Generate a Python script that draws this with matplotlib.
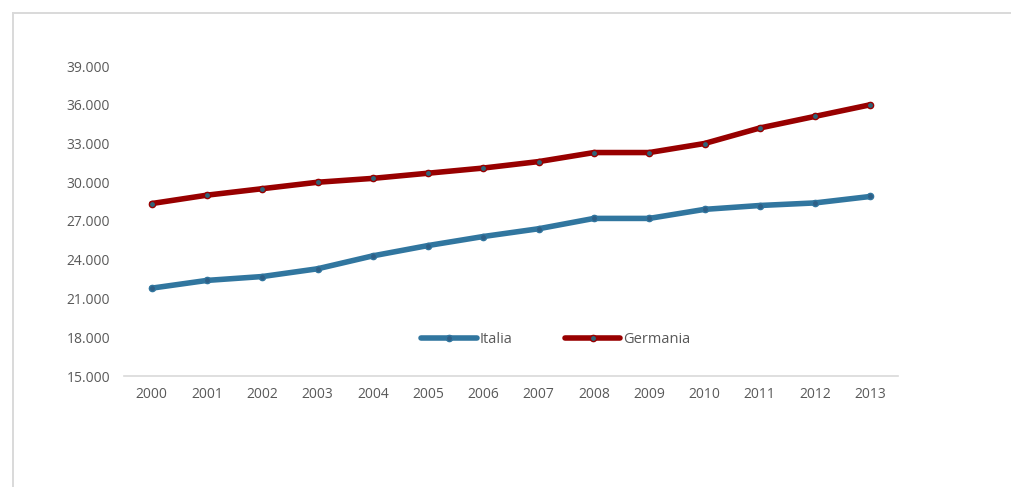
import matplotlib.pyplot as plt
from matplotlib.lines import Line2D
from matplotlib.ticker import FuncFormatter

# =============================
# DATA
# =============================
years = ["2000", "2001", "2002", "2003", "2004", "2005", "2006",
         "2007", "2008", "2009", "2010", "2011", "2012", "2013"]

italia = [21800, 22400, 22700, 23300, 24300, 25100, 25800,
          26400, 27200, 27200, 27900, 28200, 28400, 28900]

germania = [28350, 29000, 29500, 30000, 30300, 30700, 31100,
            31600, 32300, 32300, 33000, 34200, 35100, 36000]

y_ticks = [15000, 18000, 21000, 24000, 27000, 30000, 33000, 36000, 39000]

# =============================
# STYLE
# =============================
BLUE = "#31769f"
RED = "#980000"
TEXT = "#595959"
plt.rcParams["font.family"] = ["Open Sans", "DejaVu Sans"]

W, H = 1011, 487
fig = plt.figure(figsize=(W / 100, H / 100), dpi=100)

# chart area border (only top and left edges are visible)
bx, by = 13 / W, 1 - 13 / H
fig.lines.append(Line2D([bx, 1.0], [by, by], transform=fig.transFigure,
                        color="#d9d9d9", linewidth=1.4))
fig.lines.append(Line2D([bx, bx], [0.0, by], transform=fig.transFigure,
                        color="#d9d9d9", linewidth=1.4))

left, right, top, bottom = 124, 898, 66, 376
ax = fig.add_axes([left / W, (H - bottom) / H, (right - left) / W, (bottom - top) / H])

x = range(len(years))
ax.plot(x, italia, color=BLUE, linewidth=4, marker="o", markersize=4.5,
        markerfacecolor="#2e5f86", markeredgecolor=BLUE, solid_capstyle="round",
        label="Italia", zorder=3)
ax.plot(x, germania, color=RED, linewidth=4, marker="o", markersize=4.5,
        markerfacecolor="#2f6478", markeredgecolor=RED, solid_capstyle="round",
        label="Germania", zorder=3)

ax.set_xlim(-0.5, len(years) - 0.5)
ax.set_ylim(15000, 39000)
ax.set_xticks(list(x))
ax.set_xticklabels(years)
ax.set_yticks(y_ticks)
ax.yaxis.set_major_formatter(FuncFormatter(lambda v, p: f"{int(v):,}".replace(",", ".")))

for s in ["top", "right", "left"]:
    ax.spines[s].set_visible(False)
ax.spines["bottom"].set_color("#d9d9d9")
ax.spines["bottom"].set_linewidth(1.2)
ax.tick_params(axis="both", length=0, labelsize=10, colors=TEXT)
ax.tick_params(axis="x", pad=8)
ax.tick_params(axis="y", pad=10)

leg = ax.legend(loc="center", bbox_to_anchor=(0.558, 0.117), ncol=2, frameon=False,
                fontsize=10.5, handlelength=3.8, columnspacing=3.6, handletextpad=0.2)
for t in leg.get_texts():
    t.set_color(TEXT)

fig.savefig("out.png", dpi=100)
